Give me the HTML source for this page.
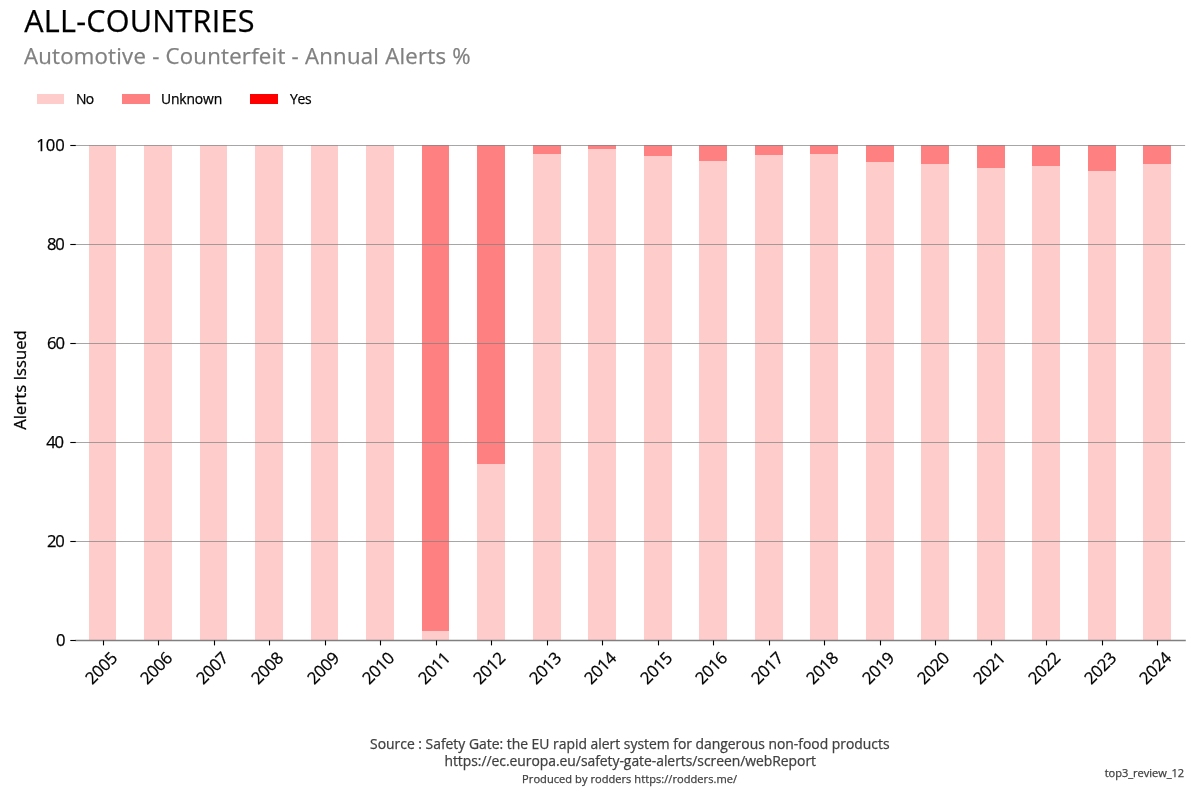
<!DOCTYPE html><html><head><meta charset="utf-8"><title>ALL-COUNTRIES</title><style>
html,body{margin:0;padding:0;background:#fff;width:1200px;height:800px;overflow:hidden}
svg{display:block;will-change:transform}text{font-family:'Open Sans', 'Liberation Sans', sans-serif;stroke-width:0.25px}
</style></head><body>
<svg width="1200" height="800" viewBox="0 0 1200 800">
<rect width="1200" height="800" fill="#fff"/>
<text x="24.20" y="31.90" font-size="30.60" letter-spacing="0.22" fill="#000" stroke="#000">ALL-COUNTRIES</text>
<text x="23.90" y="63.80" font-size="22.20" letter-spacing="0.24" fill="#808080" stroke="#808080">Automotive - Counterfeit - Annual Alerts %</text>
<rect x="37" y="94" width="27" height="10" fill="#ffcccc"/>
<text x="76.1" y="103.80" font-size="13.90" letter-spacing="-0.80" fill="#000" stroke="#000">No</text>
<rect x="122" y="94" width="28" height="10" fill="#ff8080"/>
<text x="160.9" y="103.80" font-size="13.90" letter-spacing="-0.12" fill="#000" stroke="#000">Unknown</text>
<rect x="250" y="94" width="28" height="10" fill="#ff0000"/>
<text x="290.1" y="103.80" font-size="13.90" letter-spacing="-0.35" fill="#000" stroke="#000">Yes</text>
<rect x="89" y="145" width="27" height="495" fill="#ffcccc"/>
<rect x="144" y="145" width="28" height="495" fill="#ffcccc"/>
<rect x="200" y="145" width="27" height="495" fill="#ffcccc"/>
<rect x="255" y="145" width="28" height="495" fill="#ffcccc"/>
<rect x="311" y="145" width="27" height="495" fill="#ffcccc"/>
<rect x="366" y="145" width="28" height="495" fill="#ffcccc"/>
<rect x="422" y="631" width="27" height="9" fill="#ffcccc"/>
<rect x="422" y="145" width="27" height="486" fill="#ff8080"/>
<rect x="477" y="464" width="28" height="176" fill="#ffcccc"/>
<rect x="477" y="145" width="28" height="319" fill="#ff8080"/>
<rect x="533" y="154" width="28" height="486" fill="#ffcccc"/>
<rect x="533" y="145" width="28" height="9" fill="#ff8080"/>
<rect x="588" y="149" width="28" height="491" fill="#ffcccc"/>
<rect x="588" y="145" width="28" height="4" fill="#ff8080"/>
<rect x="644" y="156" width="28" height="484" fill="#ffcccc"/>
<rect x="644" y="145" width="28" height="11" fill="#ff8080"/>
<rect x="699" y="161" width="28" height="479" fill="#ffcccc"/>
<rect x="699" y="145" width="28" height="16" fill="#ff8080"/>
<rect x="755" y="155" width="28" height="485" fill="#ffcccc"/>
<rect x="755" y="145" width="28" height="10" fill="#ff8080"/>
<rect x="810" y="154" width="28" height="486" fill="#ffcccc"/>
<rect x="810" y="145" width="28" height="9" fill="#ff8080"/>
<rect x="866" y="162" width="28" height="478" fill="#ffcccc"/>
<rect x="866" y="145" width="28" height="17" fill="#ff8080"/>
<rect x="921" y="164" width="28" height="476" fill="#ffcccc"/>
<rect x="921" y="145" width="28" height="19" fill="#ff8080"/>
<rect x="977" y="168" width="28" height="472" fill="#ffcccc"/>
<rect x="977" y="145" width="28" height="23" fill="#ff8080"/>
<rect x="1032" y="166" width="28" height="474" fill="#ffcccc"/>
<rect x="1032" y="145" width="28" height="21" fill="#ff8080"/>
<rect x="1088" y="171" width="28" height="469" fill="#ffcccc"/>
<rect x="1088" y="145" width="28" height="26" fill="#ff8080"/>
<rect x="1143" y="164" width="28" height="476" fill="#ffcccc"/>
<rect x="1143" y="145" width="28" height="19" fill="#ff8080"/>
<line x1="75.66" x2="1185.14" y1="145.5" y2="145.5" stroke="#808080" stroke-opacity="0.70" stroke-width="1.00"/>
<line x1="75.66" x2="1185.14" y1="244.5" y2="244.5" stroke="#808080" stroke-opacity="0.70" stroke-width="1.00"/>
<line x1="75.66" x2="1185.14" y1="343.5" y2="343.5" stroke="#808080" stroke-opacity="0.70" stroke-width="1.00"/>
<line x1="75.66" x2="1185.14" y1="442.5" y2="442.5" stroke="#808080" stroke-opacity="0.70" stroke-width="1.00"/>
<line x1="75.66" x2="1185.14" y1="541.5" y2="541.5" stroke="#808080" stroke-opacity="0.70" stroke-width="1.00"/>
<line x1="75.3" x2="1185.8" y1="640.5" y2="640.5" stroke="#808080" stroke-width="1.39"/>
<line x1="70.3" x2="75.8" y1="640.5" y2="640.5" stroke="#000" stroke-width="1.11"/>
<text x="65.62" y="645.80" font-size="16.67" letter-spacing="0.00" text-anchor="end" fill="#000" stroke="#000">0</text>
<line x1="70.3" x2="75.8" y1="541.5" y2="541.5" stroke="#000" stroke-width="1.11"/>
<text x="63.80" y="546.80" font-size="16.67" letter-spacing="-1.10" text-anchor="end" fill="#000" stroke="#000">20</text>
<line x1="70.3" x2="75.8" y1="442.5" y2="442.5" stroke="#000" stroke-width="1.11"/>
<text x="63.00" y="447.80" font-size="16.67" letter-spacing="-1.10" text-anchor="end" fill="#000" stroke="#000">40</text>
<line x1="70.3" x2="75.8" y1="343.5" y2="343.5" stroke="#000" stroke-width="1.11"/>
<text x="63.83" y="348.80" font-size="16.67" letter-spacing="-1.10" text-anchor="end" fill="#000" stroke="#000">60</text>
<line x1="70.3" x2="75.8" y1="244.5" y2="244.5" stroke="#000" stroke-width="1.11"/>
<text x="63.80" y="249.80" font-size="16.67" letter-spacing="-1.10" text-anchor="end" fill="#000" stroke="#000">80</text>
<line x1="70.3" x2="75.8" y1="145.5" y2="145.5" stroke="#000" stroke-width="1.11"/>
<text x="64.90" y="150.80" font-size="16.67" letter-spacing="0.00" text-anchor="end" fill="#000" stroke="#000">100</text>
<line x1="103.5" x2="103.5" y1="640.5" y2="645.4" stroke="#000" stroke-width="1.11"/>
<text transform="translate(118.20 659.30) rotate(-45)" font-size="16.67" letter-spacing="-0.35" text-anchor="end" fill="#000" stroke="#000">2005</text>
<line x1="158.5" x2="158.5" y1="640.5" y2="645.4" stroke="#000" stroke-width="1.11"/>
<text transform="translate(173.20 659.30) rotate(-45)" font-size="16.67" letter-spacing="-0.35" text-anchor="end" fill="#000" stroke="#000">2006</text>
<line x1="214.5" x2="214.5" y1="640.5" y2="645.4" stroke="#000" stroke-width="1.11"/>
<text transform="translate(229.20 659.30) rotate(-45)" font-size="16.67" letter-spacing="-0.35" text-anchor="end" fill="#000" stroke="#000">2007</text>
<line x1="269.5" x2="269.5" y1="640.5" y2="645.4" stroke="#000" stroke-width="1.11"/>
<text transform="translate(284.20 659.30) rotate(-45)" font-size="16.67" letter-spacing="-0.35" text-anchor="end" fill="#000" stroke="#000">2008</text>
<line x1="325.5" x2="325.5" y1="640.5" y2="645.4" stroke="#000" stroke-width="1.11"/>
<text transform="translate(340.20 659.30) rotate(-45)" font-size="16.67" letter-spacing="-0.35" text-anchor="end" fill="#000" stroke="#000">2009</text>
<line x1="380.5" x2="380.5" y1="640.5" y2="645.4" stroke="#000" stroke-width="1.11"/>
<text transform="translate(395.20 659.30) rotate(-45)" font-size="16.67" letter-spacing="-0.35" text-anchor="end" fill="#000" stroke="#000">2010</text>
<line x1="436.5" x2="436.5" y1="640.5" y2="645.4" stroke="#000" stroke-width="1.11"/>
<text transform="translate(451.20 659.30) rotate(-45)" font-size="16.67" letter-spacing="-0.35" text-anchor="end" fill="#000" stroke="#000">2011</text>
<line x1="491.5" x2="491.5" y1="640.5" y2="645.4" stroke="#000" stroke-width="1.11"/>
<text transform="translate(506.20 659.30) rotate(-45)" font-size="16.67" letter-spacing="-0.35" text-anchor="end" fill="#000" stroke="#000">2012</text>
<line x1="547.5" x2="547.5" y1="640.5" y2="645.4" stroke="#000" stroke-width="1.11"/>
<text transform="translate(562.20 659.30) rotate(-45)" font-size="16.67" letter-spacing="-0.35" text-anchor="end" fill="#000" stroke="#000">2013</text>
<line x1="602.5" x2="602.5" y1="640.5" y2="645.4" stroke="#000" stroke-width="1.11"/>
<text transform="translate(617.20 659.30) rotate(-45)" font-size="16.67" letter-spacing="-0.35" text-anchor="end" fill="#000" stroke="#000">2014</text>
<line x1="658.5" x2="658.5" y1="640.5" y2="645.4" stroke="#000" stroke-width="1.11"/>
<text transform="translate(673.20 659.30) rotate(-45)" font-size="16.67" letter-spacing="-0.35" text-anchor="end" fill="#000" stroke="#000">2015</text>
<line x1="713.5" x2="713.5" y1="640.5" y2="645.4" stroke="#000" stroke-width="1.11"/>
<text transform="translate(728.20 659.30) rotate(-45)" font-size="16.67" letter-spacing="-0.35" text-anchor="end" fill="#000" stroke="#000">2016</text>
<line x1="769.5" x2="769.5" y1="640.5" y2="645.4" stroke="#000" stroke-width="1.11"/>
<text transform="translate(784.20 659.30) rotate(-45)" font-size="16.67" letter-spacing="-0.35" text-anchor="end" fill="#000" stroke="#000">2017</text>
<line x1="824.5" x2="824.5" y1="640.5" y2="645.4" stroke="#000" stroke-width="1.11"/>
<text transform="translate(839.20 659.30) rotate(-45)" font-size="16.67" letter-spacing="-0.35" text-anchor="end" fill="#000" stroke="#000">2018</text>
<line x1="880.5" x2="880.5" y1="640.5" y2="645.4" stroke="#000" stroke-width="1.11"/>
<text transform="translate(895.20 659.30) rotate(-45)" font-size="16.67" letter-spacing="-0.35" text-anchor="end" fill="#000" stroke="#000">2019</text>
<line x1="935.5" x2="935.5" y1="640.5" y2="645.4" stroke="#000" stroke-width="1.11"/>
<text transform="translate(950.20 659.30) rotate(-45)" font-size="16.67" letter-spacing="-0.35" text-anchor="end" fill="#000" stroke="#000">2020</text>
<line x1="991.5" x2="991.5" y1="640.5" y2="645.4" stroke="#000" stroke-width="1.11"/>
<text transform="translate(1006.20 659.30) rotate(-45)" font-size="16.67" letter-spacing="-0.35" text-anchor="end" fill="#000" stroke="#000">2021</text>
<line x1="1046.5" x2="1046.5" y1="640.5" y2="645.4" stroke="#000" stroke-width="1.11"/>
<text transform="translate(1061.20 659.30) rotate(-45)" font-size="16.67" letter-spacing="-0.35" text-anchor="end" fill="#000" stroke="#000">2022</text>
<line x1="1102.5" x2="1102.5" y1="640.5" y2="645.4" stroke="#000" stroke-width="1.11"/>
<text transform="translate(1117.20 659.30) rotate(-45)" font-size="16.67" letter-spacing="-0.35" text-anchor="end" fill="#000" stroke="#000">2023</text>
<line x1="1157.5" x2="1157.5" y1="640.5" y2="645.4" stroke="#000" stroke-width="1.11"/>
<text transform="translate(1172.20 659.30) rotate(-45)" font-size="16.67" letter-spacing="-0.35" text-anchor="end" fill="#000" stroke="#000">2024</text>
<text transform="translate(26.00 380.00) rotate(-90)" font-size="16.67" text-anchor="middle" fill="#000" stroke="#000">Alerts Issued</text>
<text x="629.8" y="748.8" font-size="13.9" text-anchor="middle" fill="#404040" stroke="#404040">Source : Safety Gate: the EU rapid alert system for dangerous non-food products</text>
<text x="630.2" y="766" font-size="13.9" letter-spacing="-0.03" text-anchor="middle" fill="#404040" stroke="#404040">https://ec.europa.eu/safety-gate-alerts/screen/webReport</text>
<text x="629.6" y="782.85" font-size="11.1" letter-spacing="0.03" text-anchor="middle" fill="#404040" stroke="#404040">Produced by rodders https://rodders.me/</text>
<text x="1184.1" y="777.1" letter-spacing="-0.05" font-size="11.1" text-anchor="end" fill="#404040" stroke="#404040">top3_review_12</text>
</svg></body></html>
